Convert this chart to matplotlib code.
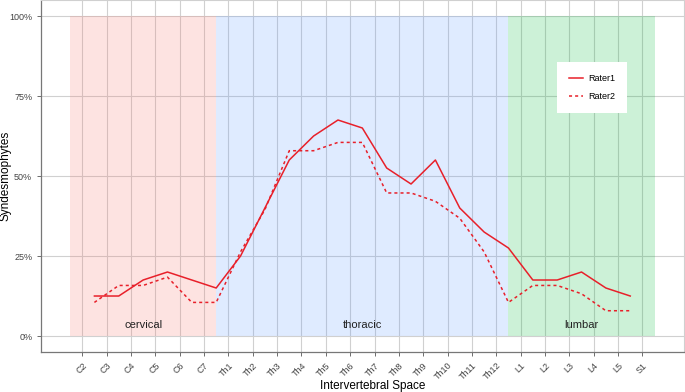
import numpy as np
import matplotlib
matplotlib.use("Agg")
import matplotlib.pyplot as plt
from matplotlib.ticker import PercentFormatter

plt.rcParams['font.family'] = ['Liberation Sans', 'DejaVu Sans']

# vertebra labels on the x axis
levels = ['C2', 'C3', 'C4', 'C5', 'C6', 'C7',
          'Th1', 'Th2', 'Th3', 'Th4', 'Th5', 'Th6', 'Th7', 'Th8', 'Th9',
          'Th10', 'Th11', 'Th12', 'L1', 'L2', 'L3', 'L4', 'L5', 'S1']

# share of patients with syndesmophytes per intervertebral space (C2/C3 ... L5/S1)
rater1 = [12.5, 12.5, 17.5, 20.0, 17.5, 15.0, 25.0, 40.0, 55.0, 62.5, 67.5, 65.0,
          52.5, 47.5, 55.0, 40.0, 32.5, 27.5, 17.5, 17.5, 20.0, 15.0, 12.5]
rater2 = [10.5, 15.8, 15.8, 18.4, 10.5, 10.5, 26.3, 39.5, 57.9, 57.9, 60.5, 60.5,
          44.7, 44.7, 42.1, 36.8, 26.3, 10.5, 15.8, 15.8, 13.2, 7.9, 7.9]

# spine regions: name, first level, last level
regions = [('cervical', 'C2', 'C7'), ('thoracic', 'Th1', 'Th12'), ('lumbar', 'L1', 'S1')]
region_colors = ['#F8766D', '#619CFF', '#00BA38']

pos = np.arange(1, len(levels) + 1)
mid = pos[:-1] + 0.5

fig = plt.figure(figsize=(6.85, 3.92), dpi=100)
ax = fig.add_axes([0.0603, 0.102, 0.938, 0.898])

for (name, a, b), col in zip(regions, region_colors):
    x0 = levels.index(a) + 0.5
    x1 = levels.index(b) + 1.5
    ax.fill_between([x0, x1], 0, 1, color=col, alpha=0.2, lw=0, zorder=1)
    ax.text((x0 + x1) / 2, 0.035, name, ha='center', va='center', fontsize=8,
            color='#222222', zorder=3)

red = '#e8202a'
ax.plot(mid, np.array(rater1) / 100, color=red, lw=1.1, label='Rater1', zorder=4)
ax.plot(mid, np.array(rater2) / 100, color=red, lw=1.1, ls=(0, (2, 2)),
        label='Rater2', zorder=4)

ax.set_xlim(-0.68, 25.7)
ax.set_ylim(-0.05, 1.05)
ax.set_xticks(pos)
ax.set_xticklabels(levels, rotation=45, ha='right', rotation_mode='anchor')
ax.set_yticks([0, 0.25, 0.5, 0.75, 1.0])
ax.yaxis.set_major_formatter(PercentFormatter(1.0, decimals=0))
ax.tick_params(labelsize=6.5, colors='#555555', length=3, width=0.6,
               labelcolor='#444444')

ax.set_axisbelow(True)
ax.grid(True, color='#d0d0d0', lw=0.8)

for s in ['top', 'right']:
    ax.spines[s].set_color('#d0d0d0')
for s in ['left', 'bottom']:
    ax.spines[s].set_color('#777777')
    ax.spines[s].set_linewidth(0.9)

# axis titles placed in figure pixels
fig.text(373 / 685, 1 - 386 / 392, 'Intervertebral Space', fontsize=8.5,
         ha='center', va='center')
fig.text(6 / 685, 1 - 176 / 392, 'Syndesmophytes', fontsize=8.5, rotation=90,
         ha='center', va='center')

leg = ax.legend(loc='upper left', bbox_to_anchor=(0.803, 0.823), borderaxespad=0,
                fontsize=6.5, frameon=True, fancybox=False, handlelength=1.5,
                labelspacing=1.0, borderpad=1.3, handletextpad=0.6)
leg.get_frame().set_facecolor('white')
leg.get_frame().set_edgecolor('none')
leg.get_frame().set_alpha(1)

fig.savefig('out.png', dpi=100)
